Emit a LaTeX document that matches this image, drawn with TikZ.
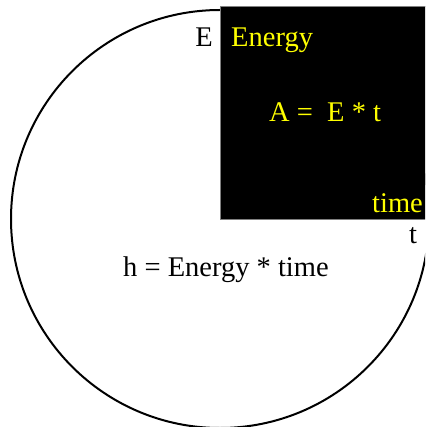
\documentclass[tikz,border=0pt]{standalone}
\usepackage{fontspec}
\setmainfont{Liberation Serif}
\usepackage{tikz}
\usetikzlibrary{positioning}
\definecolor{areaYellow}{HTML}{FFFF00}
\definecolor{areaEdge}{HTML}{808080}
\tikzset{
  bigtext/.style={inner sep=0pt, font=\fontsize{28.5}{32}\selectfont},
  blacktext/.style={bigtext, text=black},
  yellowtext/.style={bigtext, text=areaYellow},
}

\begin{document}
\begin{tikzpicture}[x=1pt, y=-1pt]
  \useasboundingbox (0,0) rectangle (425,427);
  \clip (0,0) rectangle (425,427);
  % ---------------- circle and area ----------------
  \draw[black, line width=2pt] (220,219) circle (209);
  \draw[areaEdge, fill=black, line width=0.8pt] (220,6) rectangle (427,219);
  % ---------------- labels ----------------
  \node[blacktext, anchor=base east] (eLabel) at (213,47) {E};
  \node[yellowtext, anchor=base west] (energyLabel) at (231,47) {Energy};
  \node[yellowtext, anchor=base west] (areaLabel) at (269,122) {A =\ \ E * t};
  \node[yellowtext, anchor=base west] (timeLabel) at (372,212) {time};
  \node[blacktext, anchor=base west] (tLabel) at (409,243) {t};
  \node[blacktext, anchor=base west] (hLabel) at (123,276) {h = Energy * time};
\end{tikzpicture}
\end{document}
